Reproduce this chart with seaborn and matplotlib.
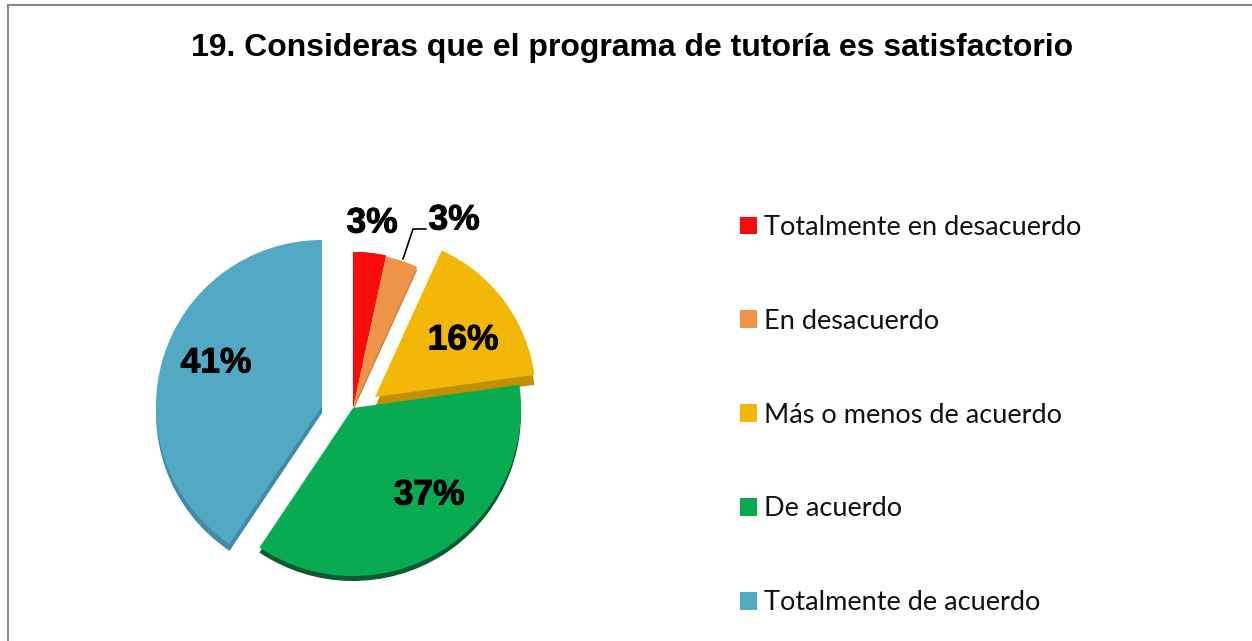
import matplotlib
matplotlib.use('Agg')
import matplotlib.pyplot as plt
import matplotlib.patheffects as pe
import seaborn as sns

# data
categories = ['Totalmente en desacuerdo', 'En desacuerdo', 'Más o menos de acuerdo',
              'De acuerdo', 'Totalmente de acuerdo']
values = [3.4, 3.4, 16, 36.6, 40.6]
pct_labels = ['3%', '3%', '16%', '37%', '41%']
title = '19. Consideras que el programa de tutoría es satisfactorio'

colors = ['#F90B0B', '#EE9448', '#F3B807', '#08AB52', '#52A9C4']
side_colors = ['#C80808', '#C87C3C', '#C09000', '#0A5C30', '#3F8CA8']

W, H = 1252, 641

sns.set_theme(style='white')
plt.rcParams['font.family'] = ['Liberation Sans', 'DejaVu Sans']

fig = plt.figure(figsize=(W / 100, H / 100), dpi=100, facecolor='white')
ax = fig.add_axes([8 / W, 0, (W - 8) / W, (H - 5) / H])


def up(y):
    # picture rows run downwards, the axes run upwards
    return H - y


def draw_pie(palette, depth):
    wedges, _ = ax.pie(values, colors=palette, startangle=90, counterclock=False, frame=True,
                       wedgeprops={'linewidth': 0})
    for w, (cx, cy), r, d in zip(wedges, centers, radii, depth):
        w.set_center((cx, up(cy + d)))
        w.set_radius(r)
    return wedges


# every slice sits on its own spot, the original is a tilted exploded pie
centers = [(353, 408), (353, 408), (375, 397), (353, 408), (322, 406)]
radii = [156, 155, 161, 168, 166]

draw_pie(side_colors, [0, 3, 10, 5, 7])
wedges = draw_pie(colors, [0, 0, 0, 0, 0])

ax.set_xlim(8, W)
ax.set_ylim(0, H - 5)
ax.set_aspect('equal')
ax.set_xticks([])
ax.set_yticks([])
for side in ['right', 'bottom']:
    ax.spines[side].set_visible(False)
for side in ['left', 'top']:
    ax.spines[side].set_visible(True)
    ax.spines[side].set_color('#868686')
    ax.spines[side].set_linewidth(1.5)

# leader line of the second label
ax.plot([403, 413, 426], [up(259), up(229), up(229)], color='black', lw=1.2)

label_pos = [(372, 223), (454, 220), (463, 340), (429, 495), (216, 363)]
for txt, (x, y) in zip(pct_labels, label_pos):
    ax.text(x, up(y), txt, ha='center', va='center', fontsize=25.5, fontweight='bold',
            color='black', path_effects=[pe.withStroke(linewidth=0.7, foreground='black')])

ax.text(632, up(48), title, ha='center', va='center', fontsize=23, fontweight='bold',
        color='black')

leg = ax.legend(wedges, categories, loc='upper left', bbox_to_anchor=(740, up(215)),
                bbox_transform=ax.transData, frameon=False, borderpad=0, borderaxespad=0,
                labelspacing=2.54, handlelength=0.63, handleheight=0.63, handletextpad=0.27,
                labelcolor='#111111', prop={'family': 'Lato', 'size': 19.5})

fig.savefig('out.png', dpi=100)
